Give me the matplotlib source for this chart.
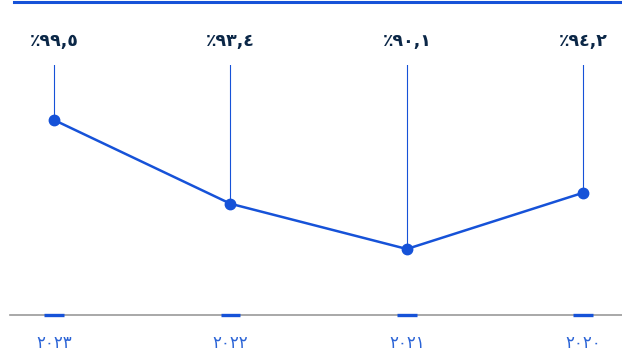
import matplotlib
matplotlib.use("Agg")
import matplotlib.pyplot as plt
from matplotlib.lines import Line2D

plt.rcParams['font.family'] = ['DejaVu Sans', 'Noto Sans']

years = ["٢٠٢٣", "٢٠٢٢", "٢٠٢١", "٢٠٢٠"]
values = [99.5, 93.4, 90.1, 94.2]
value_labels = ["٪٩٩,٥", "٪٩٣,٤", "٪٩٠,١", "٪٩٤,٢"]

BLUE = "#1652d8"
NAVY = "#0b2747"
XLAB = "#2a63d6"

fig = plt.figure(figsize=(6.22, 3.6), dpi=100)
W, H = 622, 360
ax = fig.add_axes([10 / W, 1 - 315 / H, 612 / W, 250 / H])
ax.set_xlim(-0.25, 3.22)
ax.set_ylim(85.29, 103.51)

xs = list(range(len(values)))
for x, v in zip(xs, values):
    ax.plot([x, x], [v, 103.51], color=BLUE, lw=0.8, zorder=1)
ax.plot(xs, values, color=BLUE, lw=1.8, marker='o', ms=7.5, zorder=3)

for x, lab in zip(xs, value_labels):
    ax.annotate(lab, xy=(x, 103.51), xytext=(0, 11), textcoords='offset points',
                ha='center', va='bottom', fontsize=12.5, fontweight='bold', color=NAVY)

for s in ['top', 'right', 'left']:
    ax.spines[s].set_visible(False)
ax.spines['bottom'].set_color('#9a9a9a')
ax.spines['bottom'].set_linewidth(1.2)
ax.set_yticks([])
ax.set_xticks(xs)
ax.set_xticklabels(years, fontsize=12, color=XLAB)
ax.tick_params(axis='x', length=0, pad=14)
for x in xs:
    ax.plot([x - 0.055, x + 0.055], [85.29, 85.29], color=BLUE, lw=2.4,
            solid_capstyle='butt', clip_on=False, zorder=4)

fig.add_artist(Line2D([14 / W, 1], [1 - 1.5 / H, 1 - 1.5 / H], color=BLUE, lw=2.2,
                      transform=fig.transFigure))

fig.savefig("out.png", dpi=100)
